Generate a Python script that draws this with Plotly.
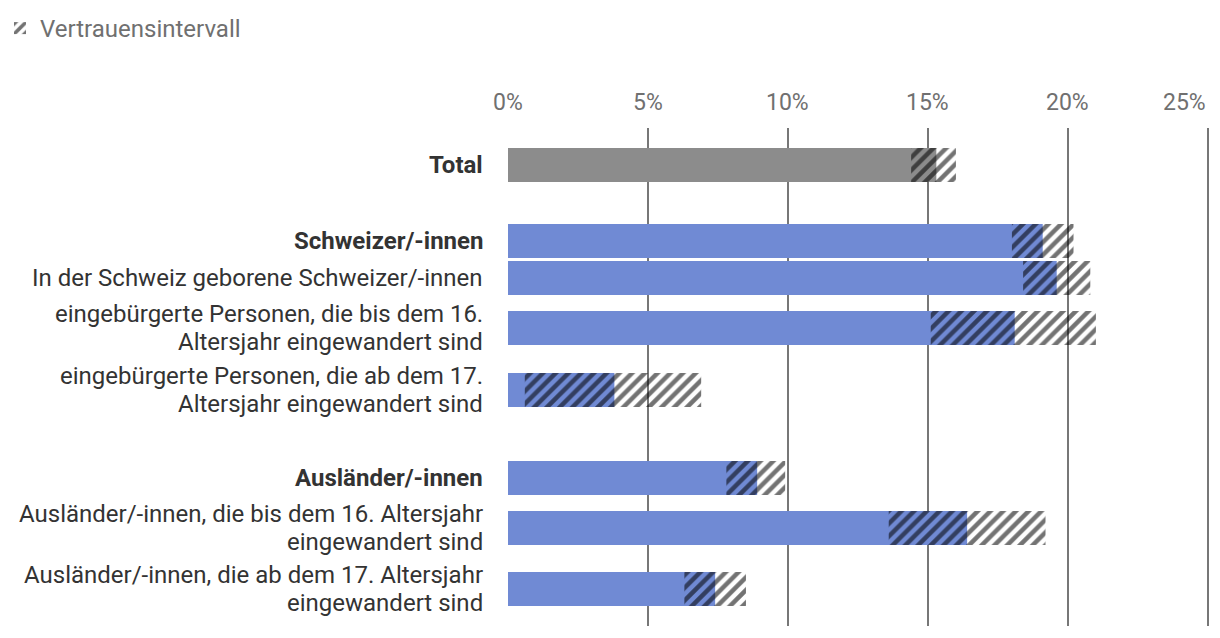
import plotly.graph_objects as go

# ---- data ----
categories = [
    "<b>Total</b>",
    "<b>Schweizer/-innen</b>",
    "In der Schweiz geborene Schweizer/-innen",
    "eingebürgerte Personen, die bis dem 16.<br>Altersjahr eingewandert sind",
    "eingebürgerte Personen, die ab dem 17.<br>Altersjahr eingewandert sind",
    "<b>Ausländer/-innen</b>",
    "Ausländer/-innen, die bis dem 16. Altersjahr<br>eingewandert sind",
    "Ausländer/-innen, die ab dem 17. Altersjahr<br>eingewandert sind",
]
values = [15.3, 19.1, 19.6, 18.1, 3.8, 8.9, 16.4, 7.4]
ci_low = [14.4, 18.0, 18.4, 15.1, 0.6, 7.8, 13.6, 6.3]
ci_high = [16.0, 20.2, 20.8, 21.0, 6.9, 9.9, 19.2, 8.5]
x_ticks = [0, 5, 10, 15, 20, 25]
x_tick_labels = ["0%", "5%", "10%", "15%", "20%", "25%"]
legend_label = "Vertrauensintervall"

# ---- layout helpers (row positions along the vertical axis) ----
row_pos = [165, 241, 278, 328, 390, 478, 528, 589]
bar_colors = ["#8c8c8c"] + ["#708ad4"] * 7
FS = 24
TICK_FS = 23
LINE_H = 28

fig = go.Figure()
fig.add_trace(go.Bar(
    y=row_pos, x=values, orientation="h", width=34,
    marker=dict(color=bar_colors, line=dict(width=0)),
    showlegend=False, hoverinfo="x",
))
fig.add_trace(go.Bar(
    y=row_pos, base=ci_low, x=[h - l for l, h in zip(ci_low, ci_high)],
    orientation="h", width=34, name=legend_label,
    marker=dict(color="black", line=dict(width=0),
                pattern=dict(shape="/", size=9, solidity=0.5, fgopacity=0.55,
                             fillmode="replace")),
    showlegend=True,
))

# category labels, one annotation per text line, right-aligned left of the plot
for pos, label in zip(row_pos, categories):
    lines = label.split("<br>")
    n = len(lines)
    for i, line in enumerate(lines):
        fig.add_annotation(
            xref="paper", yref="y", x=0, y=pos, xanchor="right", yanchor="middle",
            xshift=-23, yshift=-(i - (n - 1) / 2) * LINE_H,
            text=line, showarrow=False, align="right",
            font=dict(size=FS, color="#333333"),
        )

# x tick labels on top (last one kept inside the figure)
for i, (v, t) in enumerate(zip(x_ticks, x_tick_labels)):
    last = i == len(x_ticks) - 1
    fig.add_annotation(
        xref="x", yref="paper", x=v, y=1, xanchor="right" if last else "center",
        yanchor="bottom", yshift=10, xshift=0,
        text=t, showarrow=False, font=dict(size=TICK_FS, color="#707070"),
    )

font_family = "Roboto, 'Open Sans', sans-serif"
fig.update_layout(
    width=1220, height=638,
    margin=dict(l=508, r=11, t=128, b=12),
    paper_bgcolor="white", plot_bgcolor="white",
    barmode="overlay",
    font=dict(family=font_family, size=FS, color="#333333"),
    legend=dict(xref="container", yref="container", x=0.0, y=1.0 - 6 / 638,
                xanchor="left", yanchor="top", orientation="h",
                font=dict(size=FS, color="#707070"), bgcolor="rgba(0,0,0,0)"),
    xaxis=dict(side="top", range=[0, 25.04], tickvals=x_ticks,
               showticklabels=False,
               showgrid=True, gridcolor="#777777", gridwidth=2,
               zeroline=False, showline=False, ticks=""),
    yaxis=dict(range=[626, 128], showticklabels=False,
               showgrid=False, zeroline=False, showline=False, ticks=""),
)

fig.write_html("out.html", config={"displayModeBar": False},
               post_script="document.body.style.margin='0';")
